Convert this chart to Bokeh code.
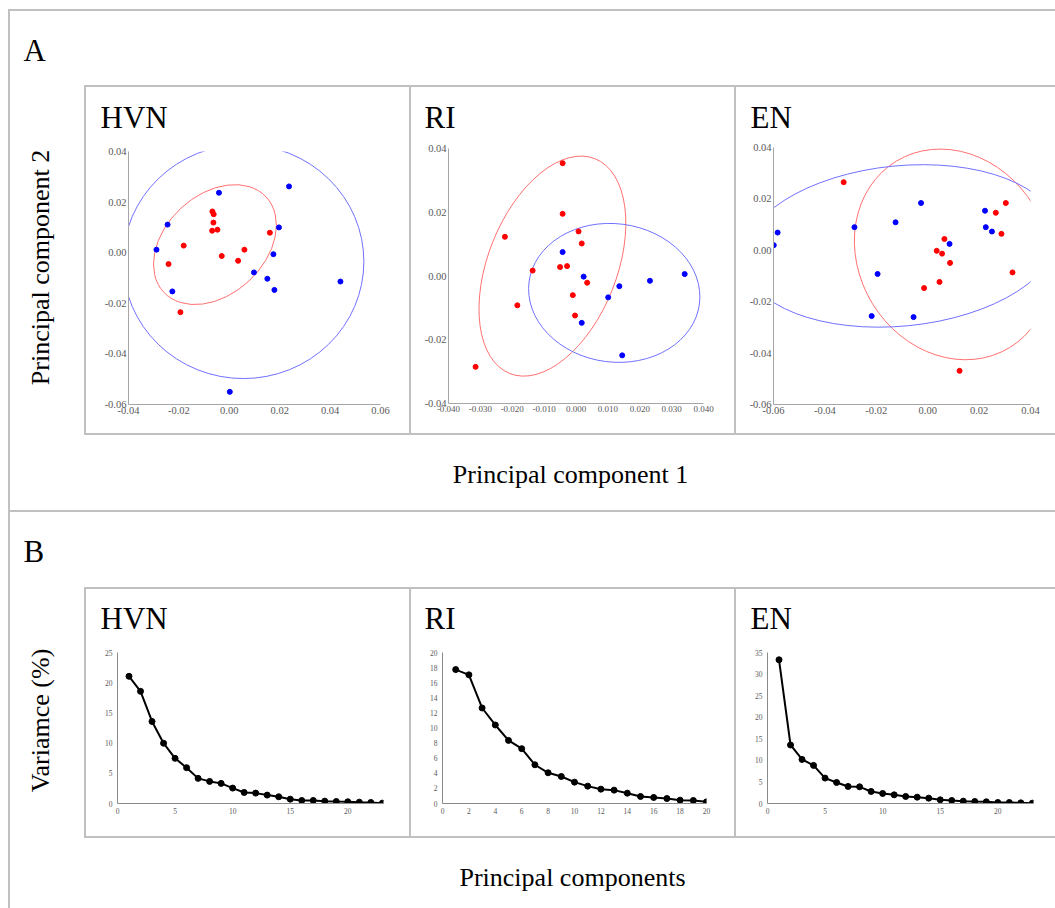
import math
from bokeh.plotting import figure
from bokeh.layouts import column, row
from bokeh.models import Range1d, FixedTicker, Spacer, NumeralTickFormatter
from bokeh.core.properties import value
from bokeh.embed import file_html
from bokeh.resources import INLINE

# ---------------- data ----------------
panel_names = ["HVN", "RI", "EN"]

# PCA scores (A)
hvn_blue_x = [-0.0041, 0.0237, -0.0245, 0.0197, -0.0289, 0.0175, 0.0098, 0.0151, 0.0179, -0.0226, 0.0441, 0.0002]
hvn_blue_y = [0.0237, 0.0262, 0.0111, 0.0100, 0.0012, -0.0006, -0.0078, -0.0103, -0.0147, -0.0153, -0.0114, -0.0550]
hvn_red_x = [-0.0067, -0.0062, -0.0063, -0.0068, -0.0047, 0.0161, -0.0181, 0.0060, -0.0030, 0.0035, -0.0241, -0.0194]
hvn_red_y = [0.0163, 0.0152, 0.0119, 0.0087, 0.0091, 0.0079, 0.0028, 0.0012, -0.0013, -0.0032, -0.0045, -0.0235]

ri_red_x = [-0.0042, -0.0042, -0.0223, 0.0008, 0.0018, -0.0136, -0.0050, -0.0028, 0.0035, -0.0010, -0.0184, -0.0003, -0.0315]
ri_red_y = [0.0354, 0.0195, 0.0123, 0.0140, 0.0102, 0.0017, 0.0028, 0.0031, -0.0021, -0.0060, -0.0092, -0.0124, -0.0285]
ri_blue_x = [-0.0042, 0.0024, 0.0232, 0.0341, 0.0136, 0.0101, 0.0018, 0.0145]
ri_blue_y = [0.0075, -0.0002, -0.0015, 0.0006, -0.0032, -0.0067, -0.0147, -0.0249]

en_blue_x = [-0.0599, -0.0584, -0.0285, -0.0125, -0.0026, 0.0223, 0.0226, 0.0250, 0.0085, -0.0195, -0.0218, -0.0055]
en_blue_y = [0.0020, 0.0069, 0.0090, 0.0109, 0.0184, 0.0154, 0.0090, 0.0073, 0.0025, -0.0092, -0.0256, -0.0260]
en_red_x = [-0.0327, 0.0304, 0.0265, 0.0287, 0.0065, 0.0035, 0.0056, 0.0087, 0.0330, 0.0046, -0.0014, 0.0124]
en_red_y = [0.0265, 0.0184, 0.0146, 0.0064, 0.0044, -0.0002, -0.0013, -0.0049, -0.0086, -0.0123, -0.0147, -0.0469]

# confidence ellipses: [red, blue]
hvn_ell_x = [-0.0057, 0.0056]
hvn_ell_y = [0.0032, -0.0035]
hvn_ell_w = [0.0555, 0.0956]
hvn_ell_h = [0.0394, 0.0925]
hvn_ell_angle = [0.748, 0.0]

ri_ell_x = [-0.0074, 0.0120]
ri_ell_y = [0.0031, -0.0053]
ri_ell_w = [0.0725, 0.0539]
ri_ell_h = [0.0404, 0.0434]
ri_ell_angle = [1.194, -0.129]

en_ell_x = [0.0098, -0.0105]
en_ell_y = [-0.0016, 0.0017]
en_ell_w = [0.0849, 0.1228]
en_ell_h = [0.0734, 0.0624]
en_ell_angle = [-1.026, 0.098]

# axis ticks (A)
hvn_xticks = [-0.04, -0.02, 0.0, 0.02, 0.04, 0.06]
hvn_yticks = [-0.06, -0.04, -0.02, 0.0, 0.02, 0.04]
ri_xticks = [-0.04, -0.03, -0.02, -0.01, 0.0, 0.01, 0.02, 0.03, 0.04]
ri_yticks = [-0.04, -0.02, 0.0, 0.02, 0.04]
en_xticks = [-0.06, -0.04, -0.02, 0.0, 0.02, 0.04]
en_yticks = [-0.06, -0.04, -0.02, 0.0, 0.02, 0.04]

# scree (B): variance (%) per principal component
hvn_var = [21.06, 18.57, 13.58, 9.98, 7.48, 5.93, 4.16, 3.66, 3.33, 2.55, 1.83, 1.72,
           1.39, 1.11, 0.72, 0.50, 0.50, 0.39, 0.33, 0.28, 0.22, 0.17, 0.06]
ri_var = [17.74, 17.04, 12.65, 10.40, 8.36, 7.26, 5.13, 4.07, 3.58, 2.83, 2.30, 1.90,
          1.77, 1.37, 0.93, 0.80, 0.66, 0.44, 0.40, 0.22]
en_var = [33.31, 13.56, 10.22, 8.83, 5.89, 4.88, 3.95, 3.87, 2.79, 2.32, 2.01, 1.63,
          1.47, 1.24, 0.85, 0.70, 0.54, 0.46, 0.39, 0.23, 0.23, 0.15, 0.08]
hvn_pc = list(range(1, len(hvn_var) + 1))
ri_pc = list(range(1, len(ri_var) + 1))
en_pc = list(range(1, len(en_var) + 1))

hvn_scree_xticks = [0, 5, 10, 15, 20]
hvn_scree_yticks = [0, 5, 10, 15, 20, 25]
ri_scree_xticks = [0, 2, 4, 6, 8, 10, 12, 14, 16, 18, 20]
ri_scree_yticks = [0, 2, 4, 6, 8, 10, 12, 14, 16, 18, 20]
en_scree_xticks = [0, 5, 10, 15, 20]
en_scree_yticks = [0, 5, 10, 15, 20, 25, 30, 35]

# ---------------- style ----------------
GRAY = "#c0c0c0"
SERIF = "Liberation Serif"
TICK_COLOR = "#595959"
RED = "#ff0000"
BLUE = "#0000ff"
RED_ELL = "#ff7070"
BLUE_ELL = "#7070ff"


def hl(w):
    return Spacer(width=w, height=2, styles={"background-color": GRAY})


def vl(h):
    return Spacer(width=2, height=h, styles={"background-color": GRAY})


def gap(w, h):
    return Spacer(width=w, height=h)


def chrome(w, h):
    p = figure(width=w, height=h, x_range=Range1d(0, w), y_range=Range1d(0, h),
               x_axis_type=None, y_axis_type=None, toolbar_location=None,
               output_backend="svg", min_border=0, title=None, frame_align=False)
    p.outline_line_color = None
    return p


def txt(p, h, x, y, s, size, align="left", baseline="alphabetic", angle=0.0):
    p.text(x=[x], y=[h - y], text=[s], text_font=value(SERIF),
           text_font_size=f"{size}px", text_align=align, text_baseline=baseline,
           angle=angle, text_color="#000000")


def style_axes(p, xticks, yticks, xfmt, yfmt, xfs, yfs, color, xso, yso):
    for ax, ticks, fmt, fs, so in ((p.xaxis[0], xticks, xfmt, xfs, xso),
                                   (p.yaxis[0], yticks, yfmt, yfs, yso)):
        ax.ticker = FixedTicker(ticks=ticks)
        ax.formatter = NumeralTickFormatter(format=fmt)
        ax.axis_line_color = color
        ax.axis_line_width = 1
        ax.major_tick_line_color = None
        ax.minor_tick_line_color = None
        ax.major_tick_out = 0
        ax.major_tick_in = 0
        ax.major_label_standoff = so
        ax.major_label_text_font = SERIF
        ax.major_label_text_font_size = f"{fs}px"
        ax.major_label_text_color = TICK_COLOR


def base(w, h, xr, yr, brd):
    l, r, t, b = brd
    p = figure(width=w, height=h, x_range=Range1d(*xr), y_range=Range1d(*yr),
               toolbar_location=None, output_backend="svg", title=None, frame_align=False,
               min_border_left=l, min_border_right=r, min_border_top=t, min_border_bottom=b)
    p.outline_line_color = None
    p.grid.visible = False
    return p


def scatter_panel(w, h, xr, yr, brd, xt, yt, xfmt, xfs, rx, ry, bx, by, ex, ey, ew, eh, ea):
    p = base(w, h, xr, yr, brd)
    style_axes(p, xt, yt, xfmt, "0.00", xfs, 10.5, "#a6a6a6", 2, 2)
    p.ellipse(x=ex, y=ey, width=ew, height=eh, angle=ea, fill_color=None,
              line_color=[RED_ELL, BLUE_ELL], line_width=1)
    p.scatter(bx, by, size=5, fill_color=BLUE, line_color=BLUE)
    p.scatter(rx, ry, size=5, fill_color=RED, line_color=RED)
    return p


def scree_panel(w, h, xr, yr, brd, xt, yt, pc, var):
    p = base(w, h, xr, yr, brd)
    style_axes(p, xt, yt, "0", "0", 7.5, 7.5, "#8a8a8a", 4, 5)
    p.line(pc, var, line_color="#000000", line_width=2)
    p.scatter(pc, var, size=6, fill_color="#000000", line_color="#000000")
    return p


def title_strip(w, h, x, baseline, s):
    p = chrome(w, h)
    txt(p, h, x, baseline, s, 31)
    return p


CELL_W = [323, 323, 319]
TITLE_X = [14, 13, 14]

# ---------------- section A ----------------
a_head = chrome(1045, 74)
txt(a_head, 74, 13, 39, "A", 31)

a_lab = chrome(74, 350)
txt(a_lab, 350, 30, 182, "Principal component 2", 26, align="center", baseline="middle",
    angle=math.pi / 2)

hvn_sc = scatter_panel(323, 298, (-0.04, 0.06), (-0.06, 0.04), (42, 29, 16, 29),
                       hvn_xticks, hvn_yticks, "0.00", 10.5,
                       hvn_red_x, hvn_red_y, hvn_blue_x, hvn_blue_y,
                       hvn_ell_x, hvn_ell_y, hvn_ell_w, hvn_ell_h, hvn_ell_angle)
ri_sc = scatter_panel(323, 298, (-0.04, 0.04), (-0.04, 0.04), (37, 31, 13, 30),
                      ri_xticks, ri_yticks, "0.000", 9,
                      ri_red_x, ri_red_y, ri_blue_x, ri_blue_y,
                      ri_ell_x, ri_ell_y, ri_ell_w, ri_ell_h, ri_ell_angle)
en_sc = scatter_panel(319, 298, (-0.06, 0.04), (-0.06, 0.04), (37, 25, 12, 29),
                      en_xticks, en_yticks, "0.00", 10.5,
                      en_red_x, en_red_y, en_blue_x, en_blue_y,
                      en_ell_x, en_ell_y, en_ell_w, en_ell_h, en_ell_angle)

a_cells = [column(title_strip(w, 48, tx, 30, s), f)
           for w, tx, s, f in zip(CELL_W, TITLE_X, panel_names, [hvn_sc, ri_sc, en_sc])]
rowA_in = row(vl(346), a_cells[0], vl(346), a_cells[1], vl(346), a_cells[2])
boxA = column(hl(971), rowA_in, hl(971))
rowA = row(a_lab, boxA)

a_foot = chrome(1045, 75)
txt(a_foot, 75, 560, 39, "Principal component 1", 26, align="center")

# ---------------- section B ----------------
b_head = chrome(1045, 75)
txt(b_head, 75, 13, 39, "B", 31)

b_lab = chrome(74, 251)
txt(b_lab, 251, 30, 133, "Variamce (%)", 26, align="center", baseline="middle",
    angle=math.pi / 2)

hvn_scree = scree_panel(323, 196, (0, 23.1), (0, 25), (31, 26, 12, 33),
                        hvn_scree_xticks, hvn_scree_yticks, hvn_pc, hvn_var)
ri_scree = scree_panel(323, 196, (0, 20), (0, 20), (31, 28, 12, 33),
                       ri_scree_xticks, ri_scree_yticks, ri_pc, ri_var)
en_scree = scree_panel(319, 196, (0, 23.1), (0, 35), (31, 22, 12, 33),
                       en_scree_xticks, en_scree_yticks, en_pc, en_var)

b_cells = [column(title_strip(w, 51, tx, 29, s), f)
           for w, tx, s, f in zip(CELL_W, TITLE_X, panel_names, [hvn_scree, ri_scree, en_scree])]
rowB_in = row(vl(247), b_cells[0], vl(247), b_cells[1], vl(247), b_cells[2])
boxB = column(hl(971), rowB_in, hl(971))
rowB = row(b_lab, boxB)

b_foot = chrome(1045, 70)
txt(b_foot, 70, 562, 39, "Principal components", 26, align="center")

main = column(hl(1045), a_head, rowA, a_foot, hl(1045), b_head, rowB, b_foot)
page = column(gap(1055, 9), row(gap(8, 899), vl(899), main))
open("out.html", "w").write(file_html(page, INLINE))
